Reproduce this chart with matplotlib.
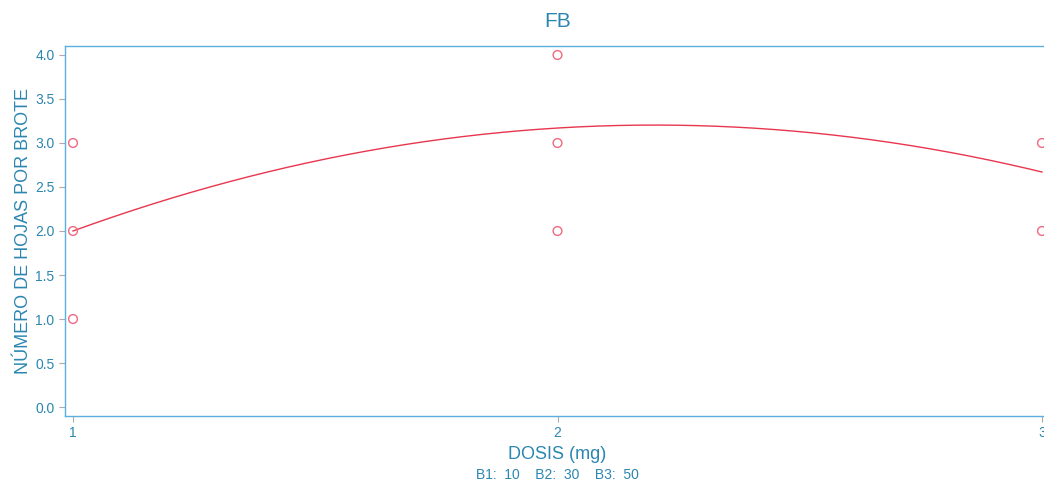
import numpy as np
import matplotlib.pyplot as plt

plt.rcParams["font.family"] = ["Liberation Sans", "DejaVu Sans"]

# data
dose_obs = [1, 1, 1, 2, 2, 2, 3, 3]
hojas_obs = [1.0, 2.0, 3.0, 2.0, 3.0, 4.0, 2.0, 3.0]

dose_fit = [1, 2, 3]
hojas_fit = [2.0, 3.17, 2.67]

yticks = [0.0, 0.5, 1.0, 1.5, 2.0, 2.5, 3.0, 3.5, 4.0]
xticks = [1, 2, 3]

SPINE = "#5aaee0"
TEXT = "#2b86b0"

fig = plt.figure(figsize=(10.44, 4.88), dpi=100)
ax = fig.add_axes([65 / 1044, 72 / 488, 985 / 1044, 370 / 488])

# quadratic fit curve
coef = np.polyfit(dose_fit, hojas_fit, 2)
xs = np.linspace(1, 3, 200)
ax.plot(xs, np.polyval(coef, xs), color="#e8364e", lw=1.0, clip_on=False)

ax.scatter(dose_obs, hojas_obs, s=40, facecolors="none",
           edgecolors="#ee6a82", linewidths=1.0, clip_on=False, zorder=3)

ax.set_xlim(1 - 8 / 484.5, 3 + 8 / 484.5)
ax.set_ylim(-9 / 88.25, 4.0 + 9 / 88.25)
ax.set_xticks(xticks)
ax.set_yticks(yticks)
ax.set_yticklabels([f"{v:.1f}" for v in yticks])

for s in ax.spines.values():
    s.set_color(SPINE)
    s.set_linewidth(1.0)

ax.tick_params(axis="both", colors="#aaaaaa", labelcolor=TEXT,
               labelsize=10, length=4, width=0.8)

ax.set_title("FB", color=TEXT, fontsize=15, pad=14)
ax.set_xlabel("DOSIS (mg)", color=TEXT, fontsize=13, labelpad=4)
ax.set_ylabel("NÚMERO DE HOJAS POR BROTE", color=TEXT, fontsize=13, labelpad=2)

fig.text(557 / 1044, 6 / 488, "B1:  10    B2:  30    B3:  50",
         color=TEXT, fontsize=10, ha="center", va="bottom")

fig.savefig("out.png", dpi=100)
